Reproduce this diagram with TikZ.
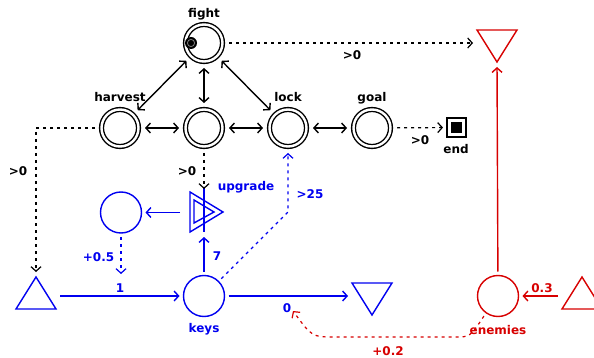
\documentclass[tikz,border=0pt]{standalone}
\usepackage{fontspec}
\setmainfont{DejaVu Sans}
\usetikzlibrary{arrows.meta}
\definecolor{mblue}{RGB}{0,0,240}
\definecolor{mred}{RGB}{215,0,0}
\begin{document}
\begin{tikzpicture}[x=1pt,y=-1pt,
  font=\bfseries\fontsize{12}{13}\selectfont,
  line width=1.4pt,
  >={Straight Barb[length=4.5pt,width=10pt]},
  dpool/.style={circle,draw,double,double distance=2.4pt,minimum size=37pt,inner sep=0pt,outer sep=6.5pt},
  pool/.style={circle,draw,minimum size=41pt,inner sep=0pt,outer sep=4pt},
  tri/.style={rectangle,minimum width=40pt,minimum height=32pt,inner sep=0pt,outer sep=0pt},
  dsh/.style={line width=1.2pt,dash pattern=on 3pt off 4pt},
  lbl/.style={anchor=base,inner sep=0pt}]
\useasboundingbox (0,0) rectangle (594,358);

% black diagram
\node[dpool] (fight) at (204,43) {};
\node[dpool] (harvest) at (120,128) {};
\node[dpool] (mid) at (204,128) {};
\node[dpool] (lock) at (288,128) {};
\node[dpool] (goal) at (372,128) {};
\node[draw,rectangle,minimum size=19pt,inner sep=0pt,outer sep=4pt] (end) at (456.5,127.5) {};
\fill (end.center) ++(-5.5,-5.5) rectangle ++(11,11);

\fill (191,43) circle (6);
\draw[gray,line width=0.8pt] (191,43) circle (3.6);
\fill (191,43) circle (2);

\node[lbl] at (204,18) {fight};
\node[lbl] at (120,102) {harvest};
\node[lbl] at (288,102) {lock};
\node[lbl] at (372,102) {goal};
\node[lbl] at (456,154) {end};

\draw[<->] (fight) -- (harvest);
\draw[<->] (fight) -- (mid);
\draw[<->] (fight) -- (lock);
\draw[<->] (harvest) -- (mid);
\draw[<->] (mid) -- (lock);
\draw[<->] (lock) -- (goal);
\draw[dsh,->] (goal) -- (end);
\node[lbl] at (420,145) {>0};

% blue diagram
\begin{scope}[mblue]
\node[tri] (src) at (36,293) {};
\draw (src.north) -- (src.south east) -- (src.south west) -- cycle;
\node[pool] (keys) at (204,296) {};
\node[tri] (drain) at (372,299) {};
\draw (drain.north west) -- (drain.north east) -- (drain.south) -- cycle;
\node[pool] (circ) at (121,212.5) {};
\node[rectangle,minimum size=40pt,inner sep=0pt] (upg) at (204,212) {};
\begin{scope}[shift={(upg.center)}]
\draw (-14,-20) -- (19,0) -- (-14,20) -- cycle;
\draw (-10,-12) -- (10,0) -- (-10,11) -- cycle;
\draw (0,-24) -- (0,20);
\end{scope}
\coordinate (upgT) at (204,189);
\coordinate (upgB) at (204,237);
\coordinate (upgL) at (180,212.5);
\coordinate (one) at (121,274);
\coordinate (lockbend) at (288,212);
\coordinate (zero) at (293,311);

\draw[->,shorten <=4pt] (src.east |- keys.west) -- (keys);
\draw[->,shorten >=4pt] (keys) -- (drain.west |- keys.east);
\draw[->] (keys) -- (upgB);
\draw[->] (upgL) -- (circ);
\draw[dsh,->] (circ) -- (one);
\draw[dsh,->] (keys.45) -- (lockbend) -- (lock);

\node[lbl] at (246,190) {upgrade};
\node[lbl] at (310,199) {>25};
\node[lbl] at (98.5,261) {+0.5};
\node[lbl] at (120,292) {1};
\node[lbl] at (217,260) {7};
\node[lbl] at (204,332) {keys};
\node[lbl] at (287,312) {0};
\end{scope}

% black connectors into blue
\draw[dsh,->,shorten >=5pt] (harvest) -| (src.north);
\draw[dsh,->] (mid) -- (upgT);
\node[lbl] at (18,176) {>0};
\node[lbl] at (187,176) {>0};

% red diagram
\begin{scope}[mred]
\node[pool] (enemies) at (498,296) {};
\node[tri] (rdrain) at (497,46) {};
\draw (rdrain.north west) -- (rdrain.north east) -- (rdrain.south) -- cycle;
\node[tri] (rsrc) at (582,293) {};
\draw (rsrc.north) -- (rsrc.south east) -- (rsrc.south west) -- cycle;
\draw[->,shorten >=5pt] (enemies) -- (rdrain.south);
\draw[->,shorten <=4pt] (rsrc.west |- enemies.east) -- (enemies);
\draw[dsh,->] (enemies.235) .. controls (470,337) .. (455,337) -- (335,337) .. controls (312,337) .. (zero);
\node[lbl] at (542,292) {0.3};
\node[lbl] at (498,334) {enemies};
\node[lbl] at (388,355) {+0.2};
\end{scope}

\draw[dsh,->,shorten >=4pt] (fight) -- (rdrain.west |- fight.east);
\node[lbl] at (352,60) {>0};
\end{tikzpicture}
\end{document}
